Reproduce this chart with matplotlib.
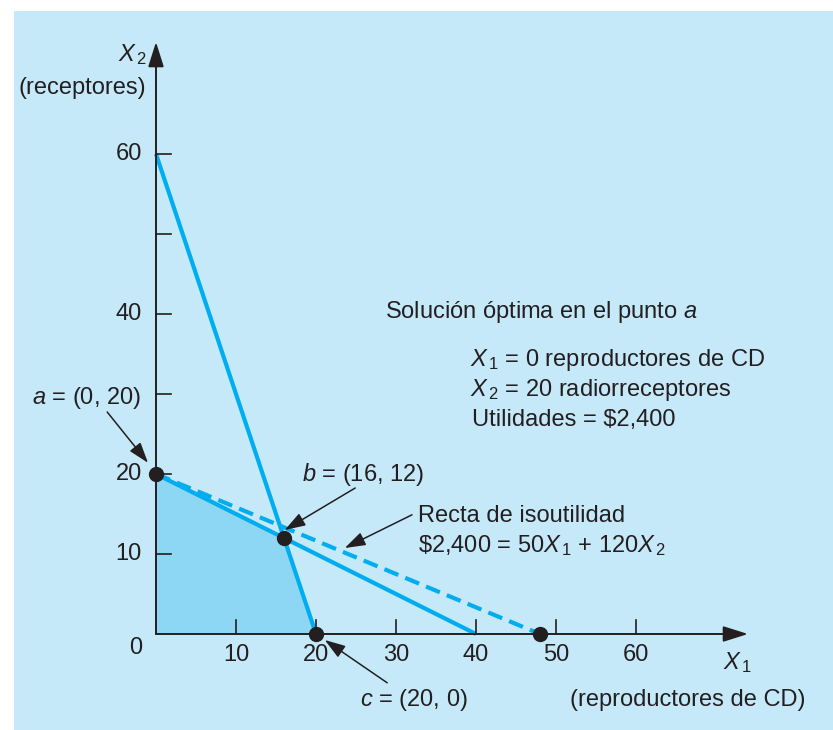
import matplotlib
matplotlib.use('Agg')
import matplotlib.pyplot as plt
from matplotlib.patches import Rectangle, Polygon

plt.rcParams['font.family'] = ['Liberation Sans', 'DejaVu Sans']
plt.rcParams['mathtext.fontset'] = 'custom'
plt.rcParams['mathtext.rm'] = 'Liberation Sans'
plt.rcParams['mathtext.it'] = 'Liberation Sans:italic'

# datos del problema
restr1_x = [0, 20]        # 3X1 + X2 = 60
restr1_y = [60, 0]
restr2_x = [0, 40]        # X1 + 2X2 = 40
restr2_y = [20, 0]
iso_x = [0, 48]           # 50X1 + 120X2 = 2400
iso_y = [20, 0]
region_x = [0, 0, 16, 20]
region_y = [0, 20, 12, 0]
puntos_x = [0, 16, 20, 48]
puntos_y = [20, 12, 0, 0]
xticks = [10, 20, 30, 40, 50, 60]
yticks = [10, 20, 30, 40, 50, 60]
ytick_labels = {10: '10', 20: '20', 40: '40', 60: '60'}

BG = '#c6e9f9'
FILL = '#8dd7f5'
LINE = '#00aeef'
INK = '#231f20'
FS = 17

fig = plt.figure(figsize=(8.33, 7.30), dpi=100)
ax = fig.add_axes([0, 0, 1, 1])
ax.set_xlim(-19.5, 84.625)
ax.set_ylim(-12, 79.25)
ax.axis('off')

ax.add_patch(Rectangle((-17.75, -12), 102.5, 89.9, facecolor=BG, edgecolor='none', zorder=0))

# region factible
ax.add_patch(Polygon(list(zip(region_x, region_y)), closed=True, facecolor=FILL, edgecolor='none', zorder=1))

ax.plot(restr1_x, restr1_y, color=LINE, lw=3, solid_capstyle='butt', zorder=3)
ax.plot(restr2_x, restr2_y, color=LINE, lw=3, solid_capstyle='butt', zorder=3)
ax.plot(iso_x, iso_y, color=LINE, lw=3, ls=(0, (3.6, 1.8)), zorder=3)

# ejes
arrow = dict(arrowstyle='-|>,head_length=0.95,head_width=0.3', color=INK, lw=1.4,
             shrinkA=0, shrinkB=0, mutation_scale=16)
ax.annotate('', xy=(74, 0), xytext=(0, 0), arrowprops=arrow, zorder=4)
ax.annotate('', xy=(0, 74), xytext=(0, 0), arrowprops=arrow, zorder=4)
for t in xticks:
    ax.plot([t, t], [0, 1.7], color=INK, lw=1.2, zorder=4)
    ax.text(t, -2.6, str(t), ha='center', va='center', fontsize=FS, color=INK)
for t in yticks:
    ax.plot([0, 1.9], [t, t], color=INK, lw=1.2, zorder=4)
    if t in ytick_labels:
        ax.text(-1.75, t, ytick_labels[t], ha='right', va='center', fontsize=FS, color=INK)
ax.text(-2.5, -1.7, '0', ha='center', va='center', fontsize=FS, color=INK)

ax.text(-1.1, 72.4, r'$X_{\,2}$', ha='right', va='center', fontsize=FS, color=INK)
ax.text(-9.25, 68.25, '(receptores)', ha='center', va='center', fontsize=FS, color=INK)
ax.text(70.9, -3.6, r'$X_{\,1}$', ha='left', va='center', fontsize=FS, color=INK)
ax.text(66.5, -8.25, '(reproductores de CD)', ha='center', va='center', fontsize=FS, color=INK)

ax.plot(puntos_x, puntos_y, 'o', color=INK, ms=10, zorder=5)

# etiquetas de puntos
thin = dict(arrowstyle='-|>,head_length=0.9,head_width=0.3', color=INK, lw=1.1,
            shrinkA=0, shrinkB=0, mutation_scale=14)
ax.text(-8.75, 29.5, r'$a$ = (0, 20)', ha='center', va='center', fontsize=FS, color=INK)
ax.annotate('', xy=(-1.0, 21.4), xytext=(-6.1, 27.75), arrowprops=thin, zorder=6)
ax.text(25.9, 19.9, r'$b$ = (16, 12)', ha='center', va='center', fontsize=FS, color=INK)
ax.annotate('', xy=(16.1, 13.0), xytext=(24.9, 18.25), arrowprops=thin, zorder=6)
ax.text(25.5, -8.25, r'$c$ = (20, 0)', ha='left', va='center', fontsize=FS, color=INK)
ax.annotate('', xy=(21.1, -0.75), xytext=(28.9, -6.1), arrowprops=thin, zorder=6)

ax.text(32.75, 14.75, 'Recta de isoutilidad', ha='left', va='center', fontsize=FS, color=INK)
ax.text(32.75, 11.0, r'\$2,400 = 50$X_{\,1}$ + 120$X_{\,2}$', ha='left', va='center', fontsize=FS, color=INK)
ax.annotate('', xy=(23.6, 10.75), xytext=(32.0, 14.9), arrowprops=thin, zorder=6)

ax.text(28.6, 40.25, r'Solución óptima en el punto $a$', ha='left', va='center', fontsize=FS, color=INK)
ax.text(39.25, 34.25, r'$X_{\,1}$ = 0 reproductores de CD', ha='left', va='center', fontsize=FS, color=INK)
ax.text(39.25, 30.5, r'$X_{\,2}$ = 20 radiorreceptores', ha='left', va='center', fontsize=FS, color=INK)
ax.text(39.5, 26.75, 'Utilidades = \\$2,400', ha='left', va='center', fontsize=FS, color=INK)

fig.savefig('out.png', dpi=100, facecolor='white')
